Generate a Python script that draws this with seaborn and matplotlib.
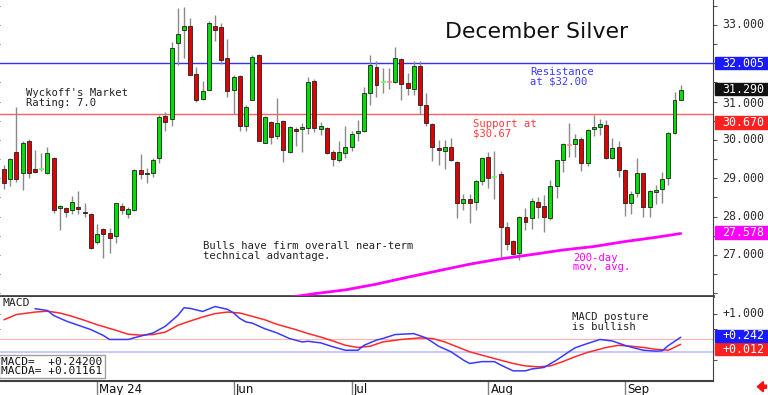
"""
December silver daily candles with 200-day average and MACD panel.
"""

import matplotlib
matplotlib.use('Agg')
import matplotlib.pyplot as plt
import matplotlib.transforms as mtransforms
from matplotlib.patches import Rectangle
import seaborn as sns
import numpy as np
import pandas as pd

# trading days, US holidays dropped
holidays = ['2024-05-27', '2024-06-19', '2024-07-04', '2024-09-02']
dates = pd.bdate_range('2024-04-10', '2024-09-16')
dates = dates[~dates.isin(pd.to_datetime(holidays))]

opens = [29.24, 28.97, 29.69, 29.15, 29.97, 29.24, 29.25, 29.15, 29.54, 28.22,
         28.22, 28.16, 28.24, 28.13, 28.07, 27.34, 27.67, 27.57, 27.50, 28.28,
         28.07, 28.17, 29.22, 29.11, 29.15, 29.52, 30.63, 30.54, 32.54, 32.87,
         32.97, 31.72, 31.06, 31.30, 32.97, 32.94, 32.13, 31.31, 31.67, 30.37,
         31.04, 32.22, 29.93, 30.48, 30.09, 30.50, 29.69, 30.28, 30.28, 30.30,
         31.55, 30.28, 30.30, 29.68, 29.48, 29.67, 29.82, 30.17, 30.24, 31.23,
         31.90, 31.50, 31.52, 31.52, 32.11, 31.49, 31.32, 31.93, 30.91, 30.42,
         29.80, 29.71, 29.82, 29.43, 28.36, 28.45, 28.39, 28.94, 29.55, 29.03,
         29.10, 27.74, 27.36, 27.04, 27.98, 27.96, 28.39, 28.28, 27.96, 28.80,
         29.48, 29.88, 29.90, 30.02, 29.39, 30.28, 30.35, 30.39, 29.52, 29.81,
         29.22, 28.35, 28.61, 29.13, 28.24, 28.65, 28.71, 29.00, 30.19, 31.04]
highs = [29.35, 29.52, 30.87, 29.96, 30.02, 29.74, 29.67, 29.81, 29.56, 28.30,
         28.26, 28.54, 28.68, 28.36, 28.09, 27.81, 27.71, 27.70, 28.36, 28.36,
         28.26, 29.24, 29.63, 29.26, 29.52, 30.65, 30.72, 32.55, 33.43, 33.48,
         33.17, 31.90, 31.55, 33.09, 33.25, 33.04, 32.63, 31.70, 31.70, 30.91,
         32.22, 32.24, 30.63, 30.50, 31.09, 30.52, 30.37, 30.33, 30.44, 31.64,
         31.58, 30.48, 30.33, 29.74, 29.98, 30.37, 30.24, 30.52, 31.37, 32.22,
         32.07, 31.87, 31.87, 32.43, 32.13, 31.74, 32.07, 32.07, 31.22, 30.44,
         30.00, 30.00, 30.04, 29.46, 28.59, 28.59, 28.96, 29.56, 29.69, 29.72,
         29.20, 27.87, 27.39, 28.02, 28.22, 28.48, 28.50, 28.56, 28.96, 29.48,
         29.93, 30.44, 30.16, 30.07, 30.28, 30.65, 30.54, 30.52, 30.06, 29.97,
         29.24, 28.68, 29.52, 29.15, 28.70, 28.83, 29.17, 30.22, 31.26, 31.43]
lows = [28.72, 28.80, 28.91, 28.70, 29.02, 29.15, 29.20, 29.11, 28.09, 27.65,
        28.00, 28.06, 28.06, 28.00, 27.15, 27.29, 26.91, 27.04, 27.30, 28.07,
        27.96, 28.14, 28.97, 28.89, 29.03, 29.39, 30.24, 30.37, 31.96, 32.13,
        31.70, 31.00, 31.03, 31.29, 32.58, 31.98, 31.11, 30.68, 30.24, 30.24,
        31.03, 29.96, 29.91, 29.90, 30.02, 29.43, 29.67, 29.83, 29.69, 30.16,
        30.22, 30.13, 29.63, 29.32, 29.43, 29.52, 29.72, 29.96, 30.22, 30.91,
        31.13, 31.22, 31.32, 31.48, 31.04, 31.17, 31.17, 30.68, 30.37, 29.46,
        29.35, 29.24, 29.46, 27.96, 28.16, 27.83, 28.16, 28.83, 28.74, 28.45,
        26.96, 27.13, 27.00, 26.87, 27.65, 27.67, 27.96, 27.61, 27.91, 28.48,
        29.17, 29.56, 29.55, 29.20, 29.32, 30.09, 30.13, 29.50, 29.50, 29.04,
        28.02, 28.07, 28.50, 27.98, 28.00, 28.33, 28.35, 28.83, 30.16, 31.03]
closes = [28.89, 29.50, 28.97, 29.91, 29.15, 29.17, 29.26, 29.65, 28.17, 28.27,
          28.11, 28.37, 28.19, 28.10, 27.17, 27.55, 27.55, 27.43, 28.35, 28.16,
          28.20, 29.22, 29.11, 29.15, 29.48, 30.61, 30.46, 32.41, 32.77, 32.97,
          31.70, 31.04, 31.28, 33.04, 32.87, 32.09, 31.28, 31.64, 30.37, 30.87,
          32.17, 29.96, 30.59, 30.07, 30.45, 29.74, 30.33, 30.24, 30.35, 31.52,
          30.30, 30.37, 29.65, 29.50, 29.68, 29.82, 30.16, 30.24, 31.23, 31.96,
          31.43, 31.51, 31.51, 32.13, 31.45, 31.35, 31.93, 30.91, 30.44, 29.81,
          29.74, 29.81, 29.48, 28.36, 28.45, 28.35, 28.93, 29.52, 29.00, 29.04,
          27.72, 27.29, 27.03, 27.98, 27.87, 28.42, 28.26, 27.98, 28.80, 29.48,
          29.90, 29.87, 30.02, 29.39, 30.26, 30.35, 30.41, 29.52, 29.80, 29.22,
          28.36, 28.59, 29.13, 28.24, 28.67, 28.70, 28.97, 30.19, 31.03, 31.29]

# 200-day moving average, read at a few trading days
ma_day = [45, 50, 55, 60, 65, 70, 75, 80, 85, 90, 95, 100, 105, 109]
ma_value = [25.87, 25.99, 26.09, 26.24, 26.42, 26.59, 26.76, 26.90, 27.01,
            27.13, 27.22, 27.35, 27.46, 27.56]

macd_day = [5, 7, 8, 10, 12, 14, 16, 17, 20, 22, 24, 26, 28, 29, 30, 32, 34,
            36, 37, 38, 39, 40, 42, 44, 46, 48, 49, 51, 53, 55, 57, 58, 60, 61,
            63, 66, 68, 70, 72, 74, 75, 77, 79, 80, 82, 84, 85, 87, 89, 91, 92,
            94, 96, 98, 100, 101, 103, 105, 106, 107, 109]
macd_value = [1.17, 1.11, 0.95, 0.77, 0.63, 0.49, 0.30, 0.17, 0.17, 0.28, 0.38,
              0.60, 0.95, 1.20, 1.18, 1.08, 1.24, 1.15, 1.03, 0.85, 0.74, 0.70,
              0.52, 0.38, 0.20, 0.09, 0.11, 0.06, -0.07, -0.18, -0.18, -0.02,
              0.15, 0.20, 0.33, 0.36, 0.22, -0.05, -0.23, -0.50, -0.61, -0.55,
              -0.55, -0.66, -0.85, -0.85, -0.79, -0.74, -0.50, -0.23, -0.10,
              0.04, 0.17, 0.12, -0.02, -0.08, -0.18, -0.21, -0.20, -0.03, 0.242]
macda_day = [0, 2, 5, 7, 9, 11, 13, 15, 18, 20, 22, 24, 26, 28, 30, 32, 34, 36,
             38, 40, 42, 44, 47, 49, 51, 53, 55, 57, 59, 61, 64, 67, 69, 71, 73,
             75, 77, 79, 82, 84, 86, 88, 90, 92, 94, 97, 99, 101, 103, 105, 107,
             109]
macda_value = [0.81, 0.98, 1.06, 1.09, 1.03, 0.92, 0.79, 0.65, 0.47, 0.34, 0.31,
               0.33, 0.41, 0.63, 0.77, 0.90, 1.01, 1.06, 1.03, 0.92, 0.81, 0.66,
               0.49, 0.36, 0.25, 0.12, -0.02, -0.09, -0.05, 0.09, 0.17, 0.22,
               0.20, 0.09, -0.07, -0.23, -0.34, -0.45, -0.61, -0.69, -0.72,
               -0.69, -0.55, -0.39, -0.25, -0.09, -0.02, -0.05, -0.09, -0.15,
               -0.18, 0.012]

resistance = 32.005
support = 30.67
price_ticks = [27, 28, 29, 30, 31, 33]
month_names = {5: 'May 24', 6: 'Jun', 7: 'Jul', 8: 'Aug', 9: 'Sep'}

GREEN, RED = '#00e000', '#e00000'
MAGENTA = '#ff00ff'
MONO = 'DejaVu Sans Mono'

sns.set_style('white')
plt.rcParams['font.family'] = ['DejaVu Sans']

fig = plt.figure(figsize=(7.68, 3.95), dpi=100)
ax = fig.add_axes([0, 99 / 395, 713 / 768, 296 / 395])
ax2 = fig.add_axes([0, 14 / 395, 713 / 768, 84 / 395], sharex=ax)

# --- candles ---
df = pd.DataFrame({'open': opens, 'high': highs, 'low': lows, 'close': closes})
df['x'] = np.arange(len(df))
up = df['close'] >= df['open']
doji = (df['close'] - df['open']).abs() < 0.02
face = np.where(doji, np.where(up, '#66ff66', '#ff8c8c'), np.where(up, GREEN, RED))
edge = np.where(doji, face, '#202020')

ax.vlines(df['x'], df['low'], df['high'], color='#8a8a8a', lw=1, zorder=2)
ax.bar(df['x'], np.maximum((df['close'] - df['open']).abs(), 0.03),
       bottom=np.minimum(df['open'], df['close']), width=0.64,
       color=face, edgecolor=edge, linewidth=0.6, zorder=3)

ax.axhline(resistance, color='#3030ff', lw=1, zorder=1)
ax.axhline(support, color='#ff6060', lw=1, zorder=1)
sns.lineplot(x=ma_day, y=ma_value, ax=ax, color=MAGENTA, lw=2, zorder=4)

ax.set_xlim(-0.64, 114.2)
ax.set_ylim(25.93, 33.65)
ax.set_yticks(np.arange(26, 34, 0.5))
ax.tick_params(axis='y', left=True, right=True, length=3, color='#555555',
               labelleft=False, labelright=False)
ax.tick_params(axis='x', bottom=False, labelbottom=False)
for s in ['top', 'left']:
    ax.spines[s].set_visible(False)
ax.spines['right'].set_color('#404040')
ax.spines['bottom'].set_color('#404040')
ax.spines['bottom'].set_linewidth(2)

tr = mtransforms.blended_transform_factory(ax.transAxes, ax.transData)
for t in price_ticks:
    # 31.000 sits a touch low in the original, under the last-price box
    ax.text(1.013, t - (0.04 if t == 31 else 0), f'{t:.3f}', transform=tr,
            ha='left', va='center', fontsize=8.4, family=MONO, color='#303030')


def value_box(axis, y, text, bg, h):
    trans = mtransforms.blended_transform_factory(axis.transAxes, axis.transData)
    axis.add_patch(Rectangle((1.003, y - h / 2), 0.075, h, transform=trans,
                             color=bg, clip_on=False, zorder=5))
    axis.text(1.013, y, text, transform=trans, ha='left', va='center',
              fontsize=8.4, family=MONO, color='white', zorder=6)


value_box(ax, resistance, '32.005', '#1a1aff', 0.33)
value_box(ax, closes[-1] + 0.03, f'{closes[-1]:.3f}', '#111111', 0.31)
value_box(ax, 30.45, '30.670', '#ff2020', 0.34)
value_box(ax, 27.578, '27.578', MAGENTA, 0.34)

txt = dict(family=MONO, fontsize=7.6, linespacing=0.95, va='top', ha='left',
           transform=ax.transAxes)
ax.text(0.624, 0.925, 'December Silver', fontsize=15.8, va='top', ha='left',
        transform=ax.transAxes, color='#111111')
ax.text(0.0365, 0.703, "Wyckoff's Market\nRating: 7.0", color='#222222', **txt)
ax.text(0.743, 0.774, 'Resistance\nat $32.00', color='#3a3aff', **txt)
ax.text(0.663, 0.598, 'Support at\n$30.67', color='#ff3a3a', **txt)
ax.text(0.285, 0.186, 'Bulls have firm overall near-term\ntechnical advantage.',
        color='#222222', **txt)
ax.text(0.804, 0.146, '200-day\nmov. avg.', color=MAGENTA, **txt)

# --- MACD panel ---
ax2.axhline(0.18, color='#ffb4b4', lw=0.8)
ax2.axhline(-0.25, color='#c8c8ff', lw=1.4)
sns.lineplot(x=macda_day, y=macda_value, ax=ax2, color='#ff2a2a', lw=1.1)
sns.lineplot(x=macd_day, y=macd_value, ax=ax2, color='#3a3aff', lw=1.1)
ax2.set_ylim(-1.18, 1.55)
ax2.set_yticks([-0.5, 0.5, 1.0])
ax2.tick_params(axis='y', left=True, right=True, length=3, color='#555555',
                labelleft=False, labelright=False)
for s in ['top', 'left']:
    ax2.spines[s].set_visible(False)
ax2.spines['right'].set_color('#404040')
ax2.spines['bottom'].set_color('#404040')
ax2.spines['bottom'].set_linewidth(1.5)

tr2 = mtransforms.blended_transform_factory(ax2.transAxes, ax2.transData)
ax2.text(1.013, 1.0, '+1.000', transform=tr2, ha='left', va='center',
         fontsize=8.4, family=MONO, color='#303030')
value_box(ax2, -0.15, '+0.012', '#ff2020', 0.40)
value_box(ax2, 0.29, '+0.242', '#1a1aff', 0.40)

ax2.text(0.003, 0.99, 'MACD', transform=ax2.transAxes, va='top', ha='left',
         family=MONO, fontsize=8.2, color='#222222',
         bbox=dict(facecolor='white', edgecolor='none', pad=0.5))
ax2.text(0.802, 0.82, 'MACD posture\nis bullish', transform=ax2.transAxes,
         va='top', ha='left', family=MONO, fontsize=7.6, linespacing=0.95,
         color='#222222')
ax2.text(0.002, 0.29, 'MACD=  +0.24200\nMACDA= +0.01161', transform=ax2.transAxes,
         va='top', ha='left', family=MONO, fontsize=8.0, linespacing=0.95,
         color='#111111', zorder=6,
         bbox=dict(facecolor='white', edgecolor='#a0a0a0', pad=1.5))

# month ticks at first trading day of each month
month_start = [i for i in range(1, len(dates)) if dates[i].month != dates[i - 1].month]
ax2.set_xticks(month_start)
ax2.tick_params(axis='x', bottom=True, length=10, width=1, color='#808080',
                labelbottom=False)
trx = mtransforms.blended_transform_factory(ax2.transData, ax2.transAxes)
for i in month_start:
    ax2.text(i + 0.35, -0.02, month_names[dates[i].month], transform=trx,
             va='top', ha='left', fontsize=8.5, color='#111111')

fig.patches.append(matplotlib.patches.FancyArrow(
    0.998, 0.021, -0.012, 0, width=0.008, head_width=0.026, head_length=0.008,
    color='#ff1010', transform=fig.transFigure, length_includes_head=True))

fig.savefig('out.png', dpi=100)
